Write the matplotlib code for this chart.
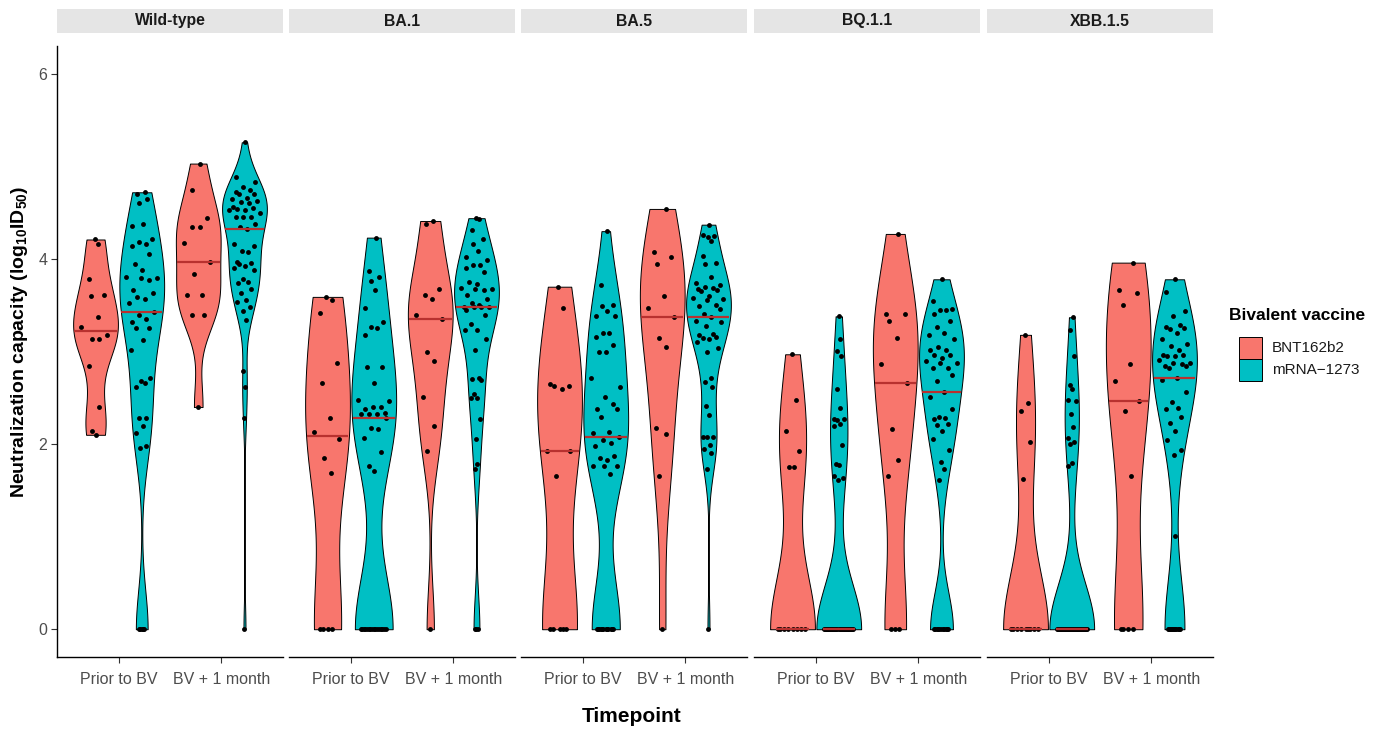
import numpy as np
import matplotlib
matplotlib.use('Agg')
import matplotlib.pyplot as plt
from matplotlib.patches import Rectangle

plt.rcParams['font.family'] = ['Liberation Sans', 'DejaVu Sans']
plt.rcParams['mathtext.fontset'] = 'custom'
plt.rcParams['mathtext.rm'] = 'Liberation Sans'
plt.rcParams['mathtext.bf'] = 'Liberation Sans:bold'

variants = ['Wild-type', 'BA.1', 'BA.5', 'BQ.1.1', 'XBB.1.5']
timepoints = ['Prior to BV', 'BV + 1 month']
vaccines = ['BNT162b2', 'mRNA\u22121273']
colors = ['#F8766D', '#00BFC4']
y_ticks = [0, 2, 4, 6]

# ---- data (log10 ID50) ----
wt_prior_bnt = [4.21, 4.16, 3.78, 3.61, 3.60, 3.37, 3.27, 3.18, 3.14, 3.14, 2.84, 2.40, 2.14, 2.10]
wt_prior_mrna = [4.72, 4.70, 4.65, 4.60, 4.38, 4.36, 4.22, 4.18, 4.16, 4.14, 4.05, 3.95, 3.88, 3.81,
                 3.79, 3.79, 3.77, 3.66, 3.63, 3.59, 3.57, 3.52, 3.43, 3.39, 3.35, 3.32, 3.25, 3.25,
                 3.12, 3.02, 2.71, 2.68, 2.66, 2.62, 2.28, 2.28, 2.19, 2.12, 1.98, 1.96, 0, 0, 0, 0, 0]
wt_post_bnt = [5.03, 4.74, 4.44, 4.35, 4.35, 4.17, 3.97, 3.84, 3.61, 3.61, 3.39, 3.39, 2.40]
wt_post_mrna = [5.26, 4.88, 4.83, 4.78, 4.74, 4.72, 4.70, 4.70, 4.66, 4.65, 4.63, 4.62, 4.60, 4.56,
                4.55, 4.54, 4.53, 4.53, 4.50, 4.45, 4.45, 4.45, 4.38, 4.35, 4.32, 4.16, 4.14, 4.09,
                4.08, 3.97, 3.96, 3.94, 3.92, 3.90, 3.88, 3.78, 3.75, 3.74, 3.68, 3.63, 3.56, 3.54,
                3.48, 3.44, 3.34, 2.79, 2.62, 2.28, 0]

ba1_prior_bnt = [3.59, 3.56, 3.42, 2.88, 2.66, 2.28, 2.13, 2.05, 1.85, 1.69, 0, 0, 0, 0]
ba1_prior_mrna = [4.23, 3.87, 3.81, 3.76, 3.66, 3.47, 3.32, 3.26, 3.25, 3.18, 2.83, 2.83, 2.66, 2.48,
                  2.46, 2.40, 2.40, 2.38, 2.34, 2.33, 2.33, 2.33, 2.28, 2.17, 2.16, 2.07, 1.91, 1.76,
                  1.71, 0, 0, 0, 0, 0, 0, 0, 0, 0, 0, 0, 0, 0, 0, 0, 0]
ba1_post_bnt = [4.41, 4.38, 3.68, 3.61, 3.57, 3.39, 3.35, 2.99, 2.90, 2.51, 2.20, 1.93, 0]
ba1_post_mrna = [4.44, 4.43, 4.31, 4.21, 4.16, 4.09, 4.02, 3.99, 3.93, 3.93, 3.90, 3.86, 3.75, 3.73,
                 3.69, 3.68, 3.68, 3.66, 3.61, 3.57, 3.52, 3.50, 3.48, 3.48, 3.48, 3.48, 3.45, 3.39,
                 3.30, 3.23, 3.23, 3.14, 3.02, 2.71, 2.70, 2.69, 2.54, 2.50, 2.50, 2.27, 2.05, 1.78,
                 1.73, 0, 0, 0]

ba5_prior_bnt = [3.70, 3.47, 2.65, 2.63, 2.63, 2.59, 1.92, 1.92, 1.66, 0, 0, 0, 0, 0]
ba5_prior_mrna = [4.30, 3.72, 3.50, 3.49, 3.44, 3.38, 3.38, 3.20, 3.20, 3.16, 3.07, 3.00, 2.99, 2.71,
                  2.62, 2.51, 2.43, 2.38, 2.38, 2.29, 2.13, 2.12, 2.08, 2.04, 2.01, 1.98, 1.87, 1.85,
                  1.83, 1.76, 1.76, 1.76, 1.68, 0, 0, 0, 0, 0, 0, 0, 0, 0, 0, 0, 0]
ba5_post_bnt = [4.54, 4.08, 4.02, 3.95, 3.60, 3.47, 3.37, 3.15, 3.05, 2.17, 2.11, 1.65, 0]
ba5_post_mrna = [4.37, 4.26, 4.25, 4.24, 4.19, 4.03, 3.96, 3.94, 3.81, 3.74, 3.72, 3.70, 3.69, 3.67,
                 3.66, 3.65, 3.60, 3.58, 3.57, 3.56, 3.50, 3.49, 3.46, 3.41, 3.37, 3.33, 3.32, 3.28,
                 3.19, 3.18, 3.16, 3.15, 3.13, 3.10, 3.04, 2.99, 2.71, 2.67, 2.62, 2.41, 2.31, 2.08,
                 2.08, 2.08, 1.99, 1.95, 1.90, 1.73, 0]

bq_prior_bnt = [2.97, 2.48, 2.14, 1.93, 1.75, 1.75, 0, 0, 0, 0, 0, 0, 0, 0]
bq_prior_mrna = [3.38, 3.14, 3.01, 2.95, 2.59, 2.39, 2.27, 2.27, 2.26, 2.22, 2.19, 1.99, 1.79, 1.77,
                 1.65, 1.63, 1.61, 0, 0, 0, 0, 0, 0, 0, 0, 0, 0, 0, 0, 0, 0, 0, 0, 0, 0, 0, 0,
                 0, 0, 0, 0, 0, 0, 0, 0, 0]
bq_post_bnt = [4.27, 3.41, 3.40, 3.33, 3.15, 2.87, 2.66, 2.16, 1.83, 1.65, 0, 0, 0]
bq_post_mrna = [3.78, 3.55, 3.46, 3.45, 3.45, 3.41, 3.33, 3.27, 3.20, 3.18, 3.13, 3.05, 3.02, 3.02,
                2.96, 2.96, 2.93, 2.90, 2.88, 2.88, 2.82, 2.82, 2.75, 2.68, 2.56, 2.51, 2.38, 2.29,
                2.28, 2.27, 2.22, 2.21, 2.14, 2.05, 1.94, 1.81, 1.73, 1.61,
                0, 0, 0, 0, 0, 0, 0, 0, 0, 0, 0]

xbb_prior_bnt = [3.18, 2.44, 2.36, 2.02, 1.62, 0, 0, 0, 0, 0, 0, 0, 0, 0]
xbb_prior_mrna = [3.37, 3.23, 2.95, 2.64, 2.60, 2.48, 2.46, 2.33, 2.18, 2.07, 2.02, 2.00, 1.80, 1.76,
                  0, 0, 0, 0, 0, 0, 0, 0, 0, 0, 0, 0, 0, 0, 0, 0, 0, 0, 0, 0, 0, 0, 0, 0, 0, 0,
                  0, 0, 0, 0, 0]
xbb_post_bnt = [3.96, 3.66, 3.63, 3.50, 2.87, 2.68, 2.47, 2.36, 1.65, 0, 0, 0, 0]
xbb_post_mrna = [3.78, 3.64, 3.44, 3.38, 3.29, 3.26, 3.25, 3.24, 3.20, 3.13, 3.08, 3.06, 3.02, 2.96,
                 2.96, 2.95, 2.95, 2.91, 2.88, 2.88, 2.87, 2.84, 2.84, 2.82, 2.71, 2.69, 2.56, 2.45,
                 2.39, 2.38, 2.29, 2.23, 2.14, 2.04, 1.94, 1.88, 1.01,
                 0, 0, 0, 0, 0, 0, 0, 0, 0, 0, 0, 0]

data = {
    'Wild-type': [[wt_prior_bnt, wt_prior_mrna], [wt_post_bnt, wt_post_mrna]],
    'BA.1': [[ba1_prior_bnt, ba1_prior_mrna], [ba1_post_bnt, ba1_post_mrna]],
    'BA.5': [[ba5_prior_bnt, ba5_prior_mrna], [ba5_post_bnt, ba5_post_mrna]],
    'BQ.1.1': [[bq_prior_bnt, bq_prior_mrna], [bq_post_bnt, bq_post_mrna]],
    'XBB.1.5': [[xbb_prior_bnt, xbb_prior_mrna], [xbb_post_bnt, xbb_post_mrna]],
}


def bw_nrd0(x):
    x = np.asarray(x, float)
    hi = np.std(x, ddof=1)
    q75, q25 = np.percentile(x, [75, 25])
    lo = min(hi, (q75 - q25) / 1.34)
    if lo <= 0:
        lo = hi if hi > 0 else (abs(x[0]) if x[0] != 0 else 1.0)
    return 0.9 * lo * len(x) ** (-0.2)


def kde(x, grid):
    x = np.asarray(x, float)
    bw = bw_nrd0(x)
    z = (grid[:, None] - x[None, :]) / bw
    return np.exp(-0.5 * z ** 2).sum(axis=1) / (len(x) * bw * np.sqrt(2 * np.pi))


def vdc(n):
    out = []
    for i in range(1, n + 1):
        v, denom, k = 0.0, 1.0, i
        while k:
            denom *= 2
            k, r = divmod(k, 2)
            v += r / denom
        out.append(2 * v - 1)
    return np.array(out)


W, H = 1390, 730
fig = plt.figure(figsize=(W / 100, H / 100), dpi=100)

panel_x = [57, 289, 521, 754, 987]
panel_w = 226
top_px, bot_px = 46, 657
dodge = 0.225
half_max = 0.218
line_col = '#B8312F'

for pi, var in enumerate(variants):
    x0 = panel_x[pi]
    ax = fig.add_axes([x0 / W, (H - bot_px) / H, panel_w / W, (bot_px - top_px) / H])
    ax.set_xlim(0.4, 2.6)
    ax.set_ylim(-0.3, 6.3)

    for ti in range(2):
        for vi in range(2):
            y = np.asarray(data[var][ti][vi], float)
            xc = ti + 1 + (-dodge if vi == 0 else dodge)
            grid = np.linspace(y.min(), y.max(), 512)
            d = kde(y, grid)
            hw = d / d.max() * half_max
            ax.fill_betweenx(grid, xc - hw, xc + hw, facecolor=colors[vi],
                             edgecolor='black', linewidth=0.7, zorder=1)
            ys = np.sort(y)
            offs = vdc(len(ys))
            hwp = np.interp(ys, grid, hw)
            xs = xc + offs * hwp * 0.72
            ax.plot(xs, ys, 'o', color='black', markersize=3.5, markeredgewidth=0, zorder=3)
            med = np.median(y)
            hwm = np.interp(med, grid, hw)
            if med == y.min():
                hwm *= 0.72
            else:
                hwm *= 0.97
            ax.plot([xc - hwm, xc + hwm], [med, med], color=line_col, lw=1.6,
                    solid_capstyle='butt', zorder=4)

    for s in ['top', 'right']:
        ax.spines[s].set_visible(False)
    ax.spines['bottom'].set_linewidth(1.0)
    ax.set_xticks([1, 2])
    ax.set_xticklabels(timepoints, fontsize=11.5, color='#4D4D4D')
    ax.tick_params(axis='x', length=4, color='#333333', pad=7)
    if pi == 0:
        ax.spines['left'].set_linewidth(1.0)
        ax.set_yticks(y_ticks)
        ax.set_yticklabels([str(v) for v in y_ticks], fontsize=11.5, color='#4D4D4D')
        ax.tick_params(axis='y', length=4, color='#333333', pad=3)
    else:
        ax.spines['left'].set_visible(False)
        ax.set_yticks([])
    ax.patch.set_alpha(0)

    # strip
    sax = fig.add_axes([x0 / W, (H - 33) / H, panel_w / W, 24 / H])
    sax.set_facecolor('#E5E5E5')
    sax.set_xticks([]); sax.set_yticks([])
    for s in sax.spines.values():
        s.set_visible(False)
    sax.text(0.5, 0.5, var, ha='center', va='center', fontsize=11.3,
             fontweight='bold', color='#1A1A1A', transform=sax.transAxes)

# axis titles
fig.text(632 / W, 1 - 716 / H, 'Timepoint', ha='center', va='center',
         fontsize=15, fontweight='bold')
fig.text(20 / W, 1 - 342 / H,
         r'Neutralization capacity (log$_\mathbf{10}$ID$_\mathbf{50}$)',
         ha='center', va='center', rotation=90, fontsize=14, fontweight='bold')

# legend
lax = fig.add_axes([0, 0, 1, 1])
lax.set_xlim(0, W); lax.set_ylim(H, 0)
lax.axis('off')
lax.text(1229, 316, 'Bivalent vaccine', fontsize=12.5, fontweight='bold',
         ha='left', va='center')
for vi, (lab, c) in enumerate(zip(vaccines, colors)):
    ytop = 337 + vi * 22
    lax.add_patch(Rectangle((1239, ytop), 23, 22, facecolor=c, edgecolor='black', lw=0.7))
    lax.text(1272, ytop + 11, lab, fontsize=11, ha='left', va='center', color='#1A1A1A')

fig.savefig('out.png', dpi=100)
